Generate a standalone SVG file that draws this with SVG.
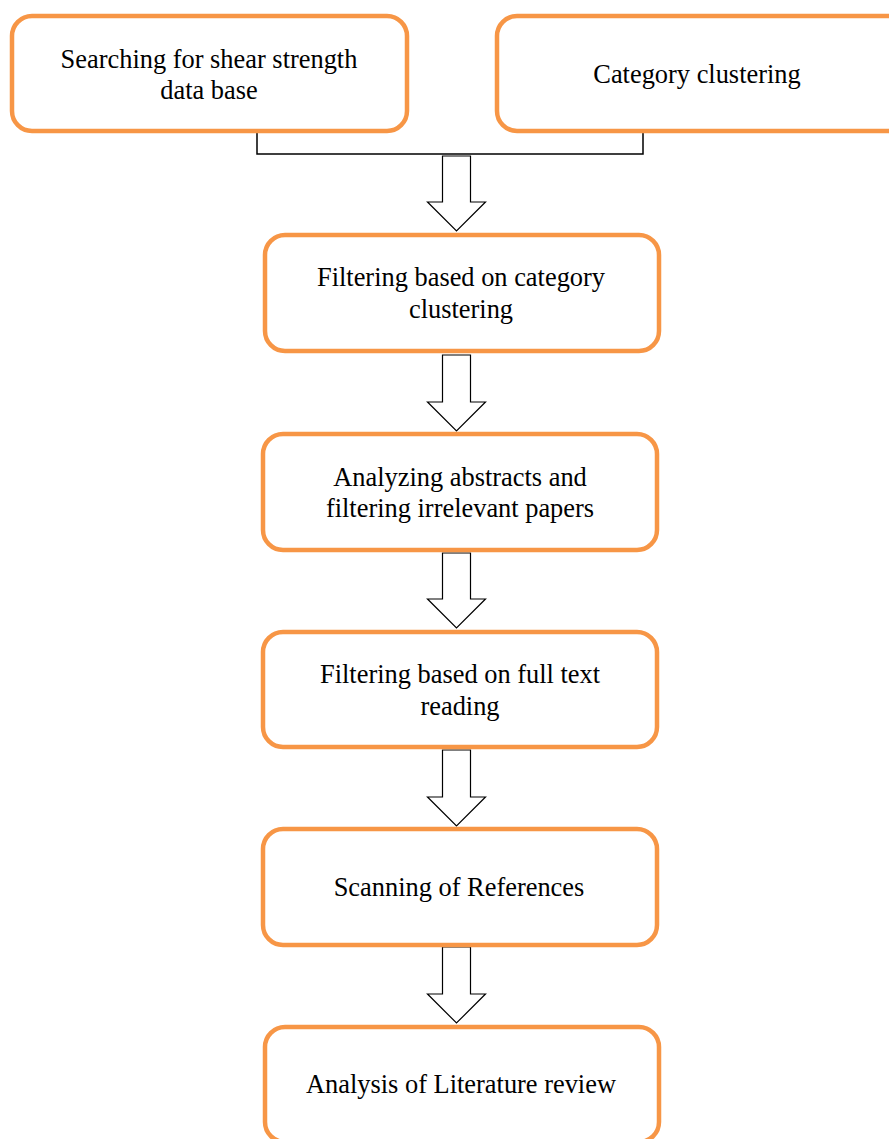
<svg xmlns="http://www.w3.org/2000/svg" width="889" height="1139" viewBox="0 0 889 1139">
<style>
.box{fill:#fff;stroke:#F79646;stroke-width:4.5}
.t{font-family:"Liberation Serif","Times New Roman",serif;font-size:26.4px;fill:#000;text-anchor:middle}
.arr{fill:#fff;stroke:#000;stroke-width:1.2;stroke-linejoin:miter}
.ln{fill:none;stroke:#000;stroke-width:1.5}
</style>
<rect width="889" height="1139" fill="#fff"/>
<g id="connectors">
<path class="ln" d="M257,132 V154 H643 V132"/>
<path class="arr" d="M442.5,156 H470.5 V202 H485.5 L456.5,231 L427.5,202 H442.5 Z"/>
<path class="arr" d="M442.5,355 H470.5 V402 H485.5 L456.5,431 L427.5,402 H442.5 Z"/>
<path class="arr" d="M442.5,553 H470.5 V599 H485.5 L456.5,628 L427.5,599 H442.5 Z"/>
<path class="arr" d="M442.5,750 H470.5 V797 H485.5 L456.5,826 L427.5,797 H442.5 Z"/>
<path class="arr" d="M442.5,947 H470.5 V994 H485.5 L456.5,1023 L427.5,994 H442.5 Z"/>
</g>
<g id="n1"><rect class="box" x="12" y="16" width="395" height="115" rx="20"/><text class="t" x="209" y="68">Searching for shear strength</text><text class="t" x="209" y="99">data base</text></g>
<g id="n2"><rect class="box" x="497" y="16" width="410" height="115" rx="20"/><text class="t" x="697" y="83">Category clustering</text></g>
<g id="n3"><rect class="box" x="265" y="235" width="394" height="116" rx="20"/><text class="t" x="461" y="286">Filtering based on category</text><text class="t" x="461" y="318">clustering</text></g>
<g id="n4"><rect class="box" x="263" y="434" width="394" height="116" rx="20"/><text class="t" x="460" y="486">Analyzing abstracts and</text><text class="t" x="460" y="517">filtering irrelevant papers</text></g>
<g id="n5"><rect class="box" x="263" y="632" width="394" height="115" rx="20"/><text class="t" x="460" y="683">Filtering based on full text</text><text class="t" x="460" y="715">reading</text></g>
<g id="n6"><rect class="box" x="263" y="829" width="394" height="116" rx="20"/><text class="t" x="459" y="896">Scanning of References</text></g>
<g id="n7"><rect class="box" x="265" y="1027" width="394" height="115" rx="20"/><text class="t" x="461" y="1093">Analysis of Literature review</text></g>
</svg>
